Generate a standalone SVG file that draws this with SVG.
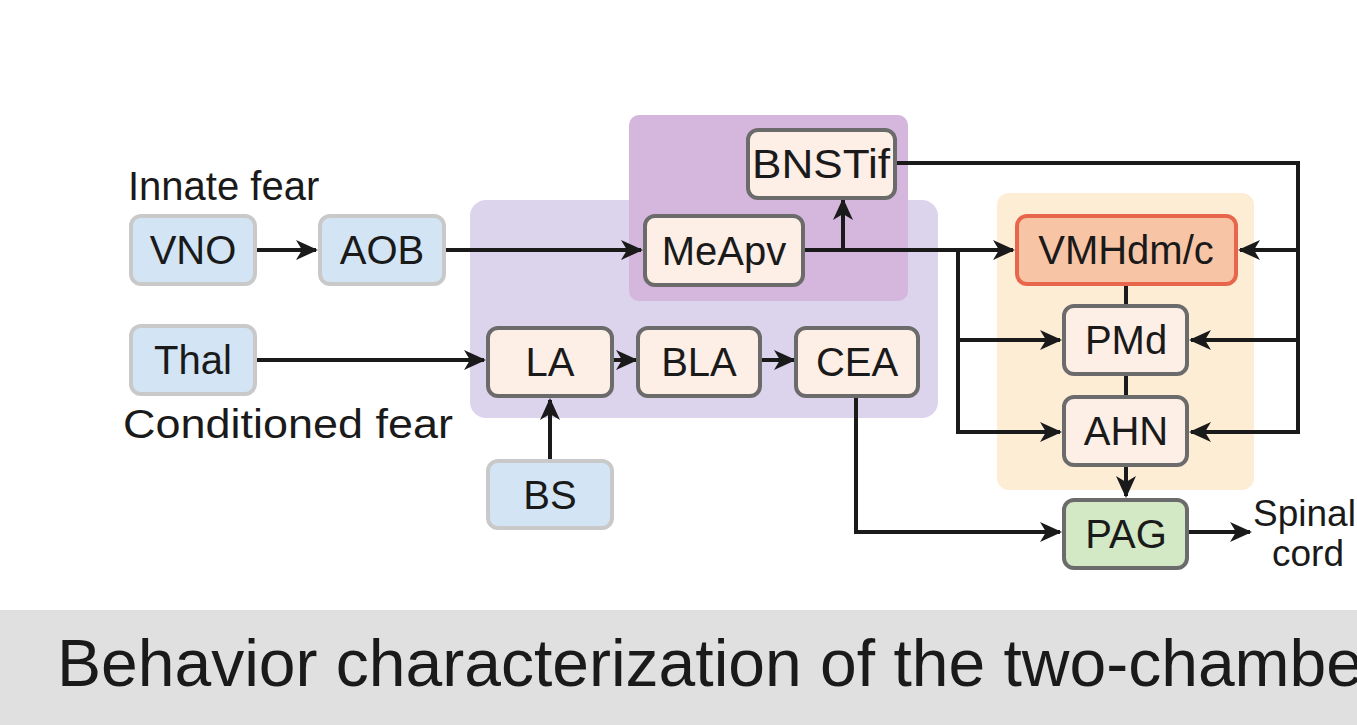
<svg xmlns="http://www.w3.org/2000/svg" width="1357" height="725" viewBox="0 0 1357 725">
<style>
text{font-family:"Liberation Sans",Arial,sans-serif;fill:#1a1a1a}
.n{font-size:40px;text-anchor:middle}
.blue{fill:#d3e5f4;stroke:#c9c9c9;stroke-width:4}
.pink{fill:#fdeee6;stroke:#6b6b6b;stroke-width:4}
.c{stroke:#1a1a1a;stroke-width:4;fill:none}
</style>
<defs>
<marker id="a" viewBox="0 0 22 22" refX="20" refY="11" markerWidth="22" markerHeight="22" markerUnits="userSpaceOnUse" orient="auto">
<path d="M0,1 L22,11 L0,21 L6,11 Z" fill="#1a1a1a"/>
</marker>
</defs>
<rect width="1357" height="725" fill="#fff"/>
<rect x="470" y="200" width="468" height="218" rx="16" fill="#dcd3ec"/>
<rect x="629" y="115" width="279" height="186" rx="10" fill="#d5b6dc"/>
<rect x="997" y="193" width="257" height="297" rx="12" fill="#fdedd5"/>
<g id="connectors">
<path class="c" d="M255,250H316" marker-end="url(#a)"/>
<path class="c" d="M444,250H641" marker-end="url(#a)"/>
<path class="c" d="M803,250H1013" marker-end="url(#a)"/>
<path class="c" d="M843,250V200" marker-end="url(#a)"/>
<path class="c" d="M958,250V432H1060" marker-end="url(#a)"/>
<path class="c" d="M958,340H1060" marker-end="url(#a)"/>
<path class="c" d="M895,163H1298V432H1191" marker-end="url(#a)"/>
<path class="c" d="M1298,250H1240" marker-end="url(#a)"/>
<path class="c" d="M1298,340H1191" marker-end="url(#a)"/>
<path class="c" d="M1126,284V306M1126,374V397"/>
<path class="c" d="M1126,465V496" marker-end="url(#a)"/>
<path class="c" d="M255,360H484" marker-end="url(#a)"/>
<path class="c" d="M612,360H636" marker-end="url(#a)"/>
<path class="c" d="M760,360H794" marker-end="url(#a)"/>
<path class="c" d="M550,461V400" marker-end="url(#a)"/>
<path class="c" d="M856,396V532H1060" marker-end="url(#a)"/>
<path class="c" d="M1187,532H1250" marker-end="url(#a)"/>
</g>
<g id="VNO"><rect class="blue" x="131" y="216" width="124" height="68" rx="10"/><text class="n" x="193" y="264">VNO</text></g>
<g id="AOB"><rect class="blue" x="320" y="216" width="124" height="68" rx="10"/><text class="n" x="382" y="264">AOB</text></g>
<g id="Thal"><rect class="blue" x="131" y="326" width="124" height="68" rx="10"/><text class="n" x="193" y="374">Thal</text></g>
<g id="BS"><rect class="blue" x="488" y="461" width="124" height="67" rx="10"/><text class="n" x="550" y="509">BS</text></g>
<g id="BNSTif"><rect class="pink" x="748" y="130" width="147" height="68" rx="10"/><text class="n" x="821" y="178" textLength="138" lengthAdjust="spacingAndGlyphs">BNSTif</text></g>
<g id="MeApv"><rect class="pink" x="645" y="216" width="158" height="69" rx="10"/><text class="n" x="724" y="265">MeApv</text></g>
<g id="LA"><rect class="pink" x="488" y="328" width="124" height="68" rx="10"/><text class="n" x="550" y="376">LA</text></g>
<g id="BLA"><rect class="pink" x="638" y="328" width="122" height="68" rx="10"/><text class="n" x="699" y="376">BLA</text></g>
<g id="CEA"><rect class="pink" x="796" y="328" width="122" height="68" rx="10"/><text class="n" x="857" y="376">CEA</text></g>
<g id="VMHdm_c"><rect x="1017" y="216" width="219" height="68" rx="10" fill="#f8c4a6" stroke="#e8664b" stroke-width="4"/><text class="n" x="1126" y="264">VMHdm/c</text></g>
<g id="PMd"><rect class="pink" x="1064" y="306" width="123" height="68" rx="10"/><text class="n" x="1126" y="354">PMd</text></g>
<g id="AHN"><rect class="pink" x="1064" y="397" width="123" height="68" rx="10"/><text class="n" x="1126" y="445">AHN</text></g>
<g id="PAG"><rect x="1064" y="500" width="123" height="68" rx="10" fill="#d3e8c4" stroke="#6b6b6b" stroke-width="4"/><text class="n" x="1126" y="548">PAG</text></g>
<text x="128" y="200" font-size="40">Innate fear</text>
<text x="123" y="438" font-size="40" textLength="330" lengthAdjust="spacingAndGlyphs">Conditioned fear</text>
<text x="1253" y="526" font-size="37">Spinal</text>
<text x="1272" y="566" font-size="37">cord</text>
<rect x="0" y="610" width="1357" height="115" fill="#e0e0e0"/>
<text x="57" y="686" font-size="66">Behavior characterization of the two-chamber</text>
</svg>
